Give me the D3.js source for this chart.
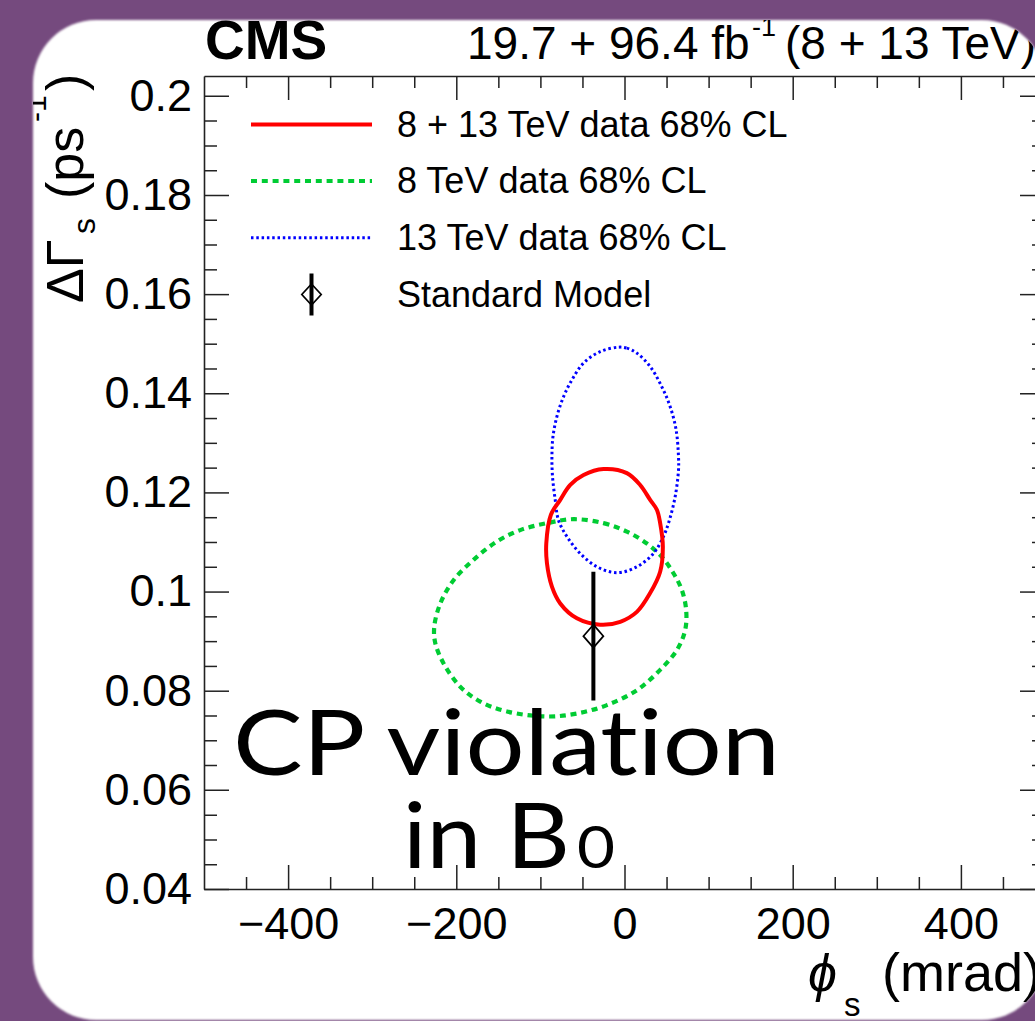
<!DOCTYPE html>
<html>
<head>
<meta charset="utf-8">
<script src="https://cdn.jsdelivr.net/npm/d3@7"></script>
<style>
  html, body { margin: 0; padding: 0; background: #754a7e; overflow: hidden; }
  svg { display: block; }
  .caption { font-variant-ligatures: none; font-feature-settings: "liga" 0, "clig" 0; }
</style>
</head>
<body>
<svg id="chart" width="1035" height="1021"></svg>
<script>
// ---- data ----------------------------------------------------------------
const phiDomain = [-500, 500];          // phi_s (mrad)
const dGammaDomain = [0.04, 0.204];     // Delta Gamma_s (ps^-1)

const xMajorTicks = [-400, -200, 0, 200, 400];
const xTickLabels = ["\u2212400", "\u2212200", "0", "200", "400"];
const yMajorTicks = [0.04, 0.06, 0.08, 0.10, 0.12, 0.14, 0.16, 0.18, 0.20];
const yTickLabels = ["0.04", "0.06", "0.08", "0.1", "0.12", "0.14", "0.16", "0.18", "0.2"];

// 68% CL contours, [phi_s, DeltaGamma_s]
const contourCombined = [
  [-25.0, 0.1247], [2.8, 0.1239], [18.6, 0.1215], [30.5, 0.1185], [38.5, 0.1165],
  [42.4, 0.1138], [45.6, 0.1091], [42.4, 0.1040], [30.5, 0.0997], [14.7, 0.0959],
  [-5.1, 0.0939], [-28.9, 0.0933], [-56.6, 0.0946], [-76.4, 0.0976], [-86.3, 0.1010],
  [-92.2, 0.1057], [-93.0, 0.1097], [-87.5, 0.1155], [-76.4, 0.1185], [-64.5, 0.1215],
  [-48.7, 0.1235]
];
const contour8TeV = [
  [-60.6, 0.1146], [-25.0, 0.1138], [2.8, 0.1121], [26.6, 0.1097], [44.4, 0.1070],
  [58.2, 0.1037], [68.2, 0.1003], [73.3, 0.0963], [72.1, 0.0922], [62.3, 0.0882],
  [42.4, 0.0842], [14.7, 0.0801], [-20.9, 0.0771], [-56.6, 0.0754], [-92.2, 0.0748],
  [-139.7, 0.0758], [-171.5, 0.0778], [-195.3, 0.0808], [-215.1, 0.0855], [-225.0, 0.0896],
  [-226.2, 0.0929], [-219.0, 0.0976], [-203.3, 0.1023], [-179.5, 0.1064], [-151.7, 0.1101],
  [-124.0, 0.1124], [-92.2, 0.1138]
];
const contour13TeV = [
  [-7.1, 0.1493], [2.8, 0.1491], [14.7, 0.1481], [30.5, 0.1454], [44.4, 0.1413],
  [54.3, 0.1373], [61.4, 0.1326], [64.2, 0.1272], [64.2, 0.1245], [60.2, 0.1191],
  [52.3, 0.1138], [46.3, 0.1111], [34.5, 0.1077], [14.7, 0.1050], [-9.0, 0.1038],
  [-32.8, 0.1050], [-52.7, 0.1077], [-68.5, 0.1111], [-78.5, 0.1144], [-82.4, 0.1185],
  [-85.6, 0.1232], [-86.3, 0.1272], [-85.1, 0.1312], [-80.4, 0.1353], [-72.5, 0.1393],
  [-62.5, 0.1427], [-48.7, 0.1461], [-28.9, 0.1484]
];

// Standard Model prediction
const smPhi = [-37];
const smDGamma = [0.091];
const smDGammaErr = [0.013];

const legendLabels = [
  "8 + 13 TeV data 68% CL",
  "8 TeV data 68% CL",
  "13 TeV data 68% CL",
  "Standard Model"
];

// ---- styles ----------------------------------------------------------------
const W = 1035, H = 1021;
const sans = "'Liberation Sans', Arial, Helvetica, sans-serif";
const frame = { left: 204, right: 1045, top: 76, bottom: 889 };
const seriesStyle = [
  { color: "#ff0000", width: 4, dash: null },
  { color: "#00cc33", width: 4.2, dash: "6,4.8" },
  { color: "#0000ff", width: 3, dash: "2.5,2.8" }
];

const svg = d3.select("#chart");
const defs = svg.append("defs");

svg.append("rect").attr("width", W).attr("height", H).attr("fill", "#754a7e");

defs.append("clipPath").attr("id", "card")
  .append("rect").attr("x", 33).attr("y", 20).attr("width", 1012).attr("height", 1000).attr("rx", 63);
defs.append("filter").attr("id", "soft").attr("x", "-5%").attr("y", "-5%").attr("width", "110%").attr("height", "110%")
  .append("feGaussianBlur").attr("stdDeviation", 1.2);

svg.append("rect").attr("x", 33).attr("y", 20).attr("width", 1012).attr("height", 1000).attr("rx", 63)
  .attr("fill", "#ffffff").attr("filter", "url(#soft)");

const g = svg.append("g").attr("clip-path", "url(#card)");

// ---- scales ----------------------------------------------------------------
const x = d3.scaleLinear().domain(phiDomain).range([frame.left, frame.right]);
const y = d3.scaleLinear().domain(dGammaDomain).range([frame.bottom, frame.top]);

const xMinor = d3.range(-450, 500, 50).filter(v => v % 200 !== 0);
const yMinor = d3.range(0, 33).map(i => +(0.04 + i * 0.005).toFixed(3))
  .filter(v => v < 0.204 && Math.round(v * 1000) % 20 !== 0);

function styleAxis(sel, size) {
  sel.attr("font-family", sans).attr("font-size", size);
  sel.selectAll(".domain").attr("stroke", "#222").attr("stroke-width", 1.6);
  sel.selectAll(".tick line").attr("stroke", "#222").attr("stroke-width", 1.5);
  sel.selectAll(".tick text").attr("fill", "#000");
}

// bottom
g.append("g").attr("transform", `translate(0,${frame.bottom})`)
  .call(d3.axisBottom(x).tickValues(xMajorTicks).tickFormat((d, i) => xTickLabels[i])
    .tickSizeInner(-24).tickSizeOuter(0).tickPadding(18))
  .call(s => styleAxis(s, 45));
g.append("g").attr("transform", `translate(0,${frame.bottom})`)
  .call(d3.axisBottom(x).tickValues(xMinor).tickFormat("").tickSizeInner(-12).tickSizeOuter(0))
  .call(s => { styleAxis(s, 10); s.select(".domain").remove(); });

// top
g.append("g").attr("transform", `translate(0,${frame.top})`)
  .call(d3.axisTop(x).tickValues(xMajorTicks).tickFormat("").tickSizeInner(-24).tickSizeOuter(0))
  .call(s => styleAxis(s, 10));
g.append("g").attr("transform", `translate(0,${frame.top})`)
  .call(d3.axisTop(x).tickValues(xMinor).tickFormat("").tickSizeInner(-12).tickSizeOuter(0))
  .call(s => { styleAxis(s, 10); s.select(".domain").remove(); });

// left
g.append("g").attr("transform", `translate(${frame.left},0)`)
  .call(d3.axisLeft(y).tickValues(yMajorTicks).tickFormat((d, i) => yTickLabels[i])
    .tickSizeInner(-25).tickSizeOuter(0).tickPadding(12))
  .call(s => styleAxis(s, 45));
g.append("g").attr("transform", `translate(${frame.left},0)`)
  .call(d3.axisLeft(y).tickValues(yMinor).tickFormat("").tickSizeInner(-13).tickSizeOuter(0))
  .call(s => { styleAxis(s, 10); s.select(".domain").remove(); });

// right
g.append("g").attr("transform", `translate(${frame.right},0)`)
  .call(d3.axisRight(y).tickValues(yMajorTicks).tickFormat("").tickSizeInner(-25).tickSizeOuter(0))
  .call(s => styleAxis(s, 10));
g.append("g").attr("transform", `translate(${frame.right},0)`)
  .call(d3.axisRight(y).tickValues(yMinor).tickFormat("").tickSizeInner(-13).tickSizeOuter(0))
  .call(s => { styleAxis(s, 10); s.select(".domain").remove(); });

// ---- contours ----------------------------------------------------------------
const line = d3.line().x(d => x(d[0])).y(d => y(d[1])).curve(d3.curveCatmullRomClosed.alpha(0.5));
const contours = [contourCombined, contour8TeV, contour13TeV];
[1, 2, 0].forEach(i => {
  const st = seriesStyle[i];
  g.append("path").datum(contours[i])
    .attr("d", line)
    .attr("fill", "none")
    .attr("stroke", st.color)
    .attr("stroke-width", st.width)
    .attr("stroke-dasharray", st.dash)
    .attr("stroke-linejoin", "round");
});

// ---- Standard Model point ----------------------------------------------------------
function diamond(cx, cy, hw, hh) {
  return `M${cx},${cy - hh}L${cx + hw},${cy}L${cx},${cy + hh}L${cx - hw},${cy}Z`;
}
smPhi.forEach((p, i) => {
  const cx = x(p), cy = y(smDGamma[i]);
  g.append("line")
    .attr("x1", cx).attr("x2", cx)
    .attr("y1", y(smDGamma[i] - smDGammaErr[i])).attr("y2", y(smDGamma[i] + smDGammaErr[i]))
    .attr("stroke", "#000").attr("stroke-width", 4);
  g.append("path").attr("d", diamond(cx, cy, 10, 11.5))
    .attr("fill", "none").attr("stroke", "#000").attr("stroke-width", 1.7);
});

// ---- legend ----------------------------------------------------------------
const legendRows = [124.5, 181, 237.7, 294.5];
const legX0 = 251, legX1 = 372, legText = 397;
seriesStyle.forEach((st, i) => {
  g.append("line")
    .attr("x1", legX0).attr("x2", legX1).attr("y1", legendRows[i]).attr("y2", legendRows[i])
    .attr("stroke", st.color).attr("stroke-width", st.width).attr("stroke-dasharray", st.dash);
});
const smLegX = (legX0 + legX1) / 2;
g.append("line").attr("x1", smLegX).attr("x2", smLegX)
  .attr("y1", legendRows[3] - 21).attr("y2", legendRows[3] + 21)
  .attr("stroke", "#000").attr("stroke-width", 4);
g.append("path").attr("d", diamond(smLegX, legendRows[3], 9.7, 10.5))
  .attr("fill", "none").attr("stroke", "#000").attr("stroke-width", 1.7);

legendLabels.forEach((t, i) => {
  g.append("text")
    .attr("x", legText).attr("y", legendRows[i] + 12)
    .attr("font-family", sans).attr("font-size", 36).attr("fill", "#000")
    .text(t);
});

// ---- header texts ----------------------------------------------------------------
g.append("text").attr("x", 205).attr("y", 59)
  .attr("font-family", sans).attr("font-weight", "bold").attr("font-size", 55).attr("fill", "#000")
  .text("CMS");

const lumi = g.append("text").attr("font-family", sans).attr("fill", "#000").attr("font-size", 46);
lumi.append("tspan").attr("x", 467).attr("y", 59).text("19.7 + 96.4 fb");
lumi.append("tspan").attr("x", 752).attr("y", 36).attr("font-size", 27).text("-1");
lumi.append("tspan").attr("x", 785).attr("y", 59).text("(8 + 13 TeV)");

// ---- axis titles ----------------------------------------------------------------
const xt = g.append("text").attr("font-family", sans).attr("fill", "#000").attr("font-size", 54);
xt.append("tspan").attr("x", 808).attr("y", 991).attr("font-style", "italic").attr("font-size", 52).text("\u03D5");
xt.append("tspan").attr("x", 844).attr("y", 1016).attr("font-size", 33).text("s");
xt.append("tspan").attr("x", 882).attr("y", 991).text("(mrad)");

const yt = g.append("g").attr("transform", "translate(83,303) rotate(-90)")
  .append("text").attr("font-family", sans).attr("fill", "#000").attr("font-size", 52);
yt.append("tspan").attr("x", 0).attr("y", 0).text("\u0394\u0393");
yt.append("tspan").attr("x", 69).attr("y", 12).attr("font-size", 32).text("s");
yt.append("tspan").attr("x", 104).attr("y", 0).text("(ps");
yt.append("tspan").attr("x", 181).attr("y", -37).attr("font-size", 30).text("-1");
yt.append("tspan").attr("x", 212).attr("y", 0).text(")");

// ---- overlay caption ----------------------------------------------------------------
const captionFont = "'Lato', 'Open Sans', sans-serif";
function caption(txt, x0, y0, size, len) {
  g.append("text").attr("class", "caption")
    .attr("x", x0).attr("y", y0)
    .attr("font-family", captionFont).attr("font-size", size).attr("fill", "#000")
    .attr("textLength", len).attr("lengthAdjust", "spacingAndGlyphs")
    .text(txt);
}
caption("CP violation", 233, 775, 91, 547);
caption("in B", 403, 868, 91, 167);
caption("0", 577, 868, 58, 38);
</script>
</body>
</html>
